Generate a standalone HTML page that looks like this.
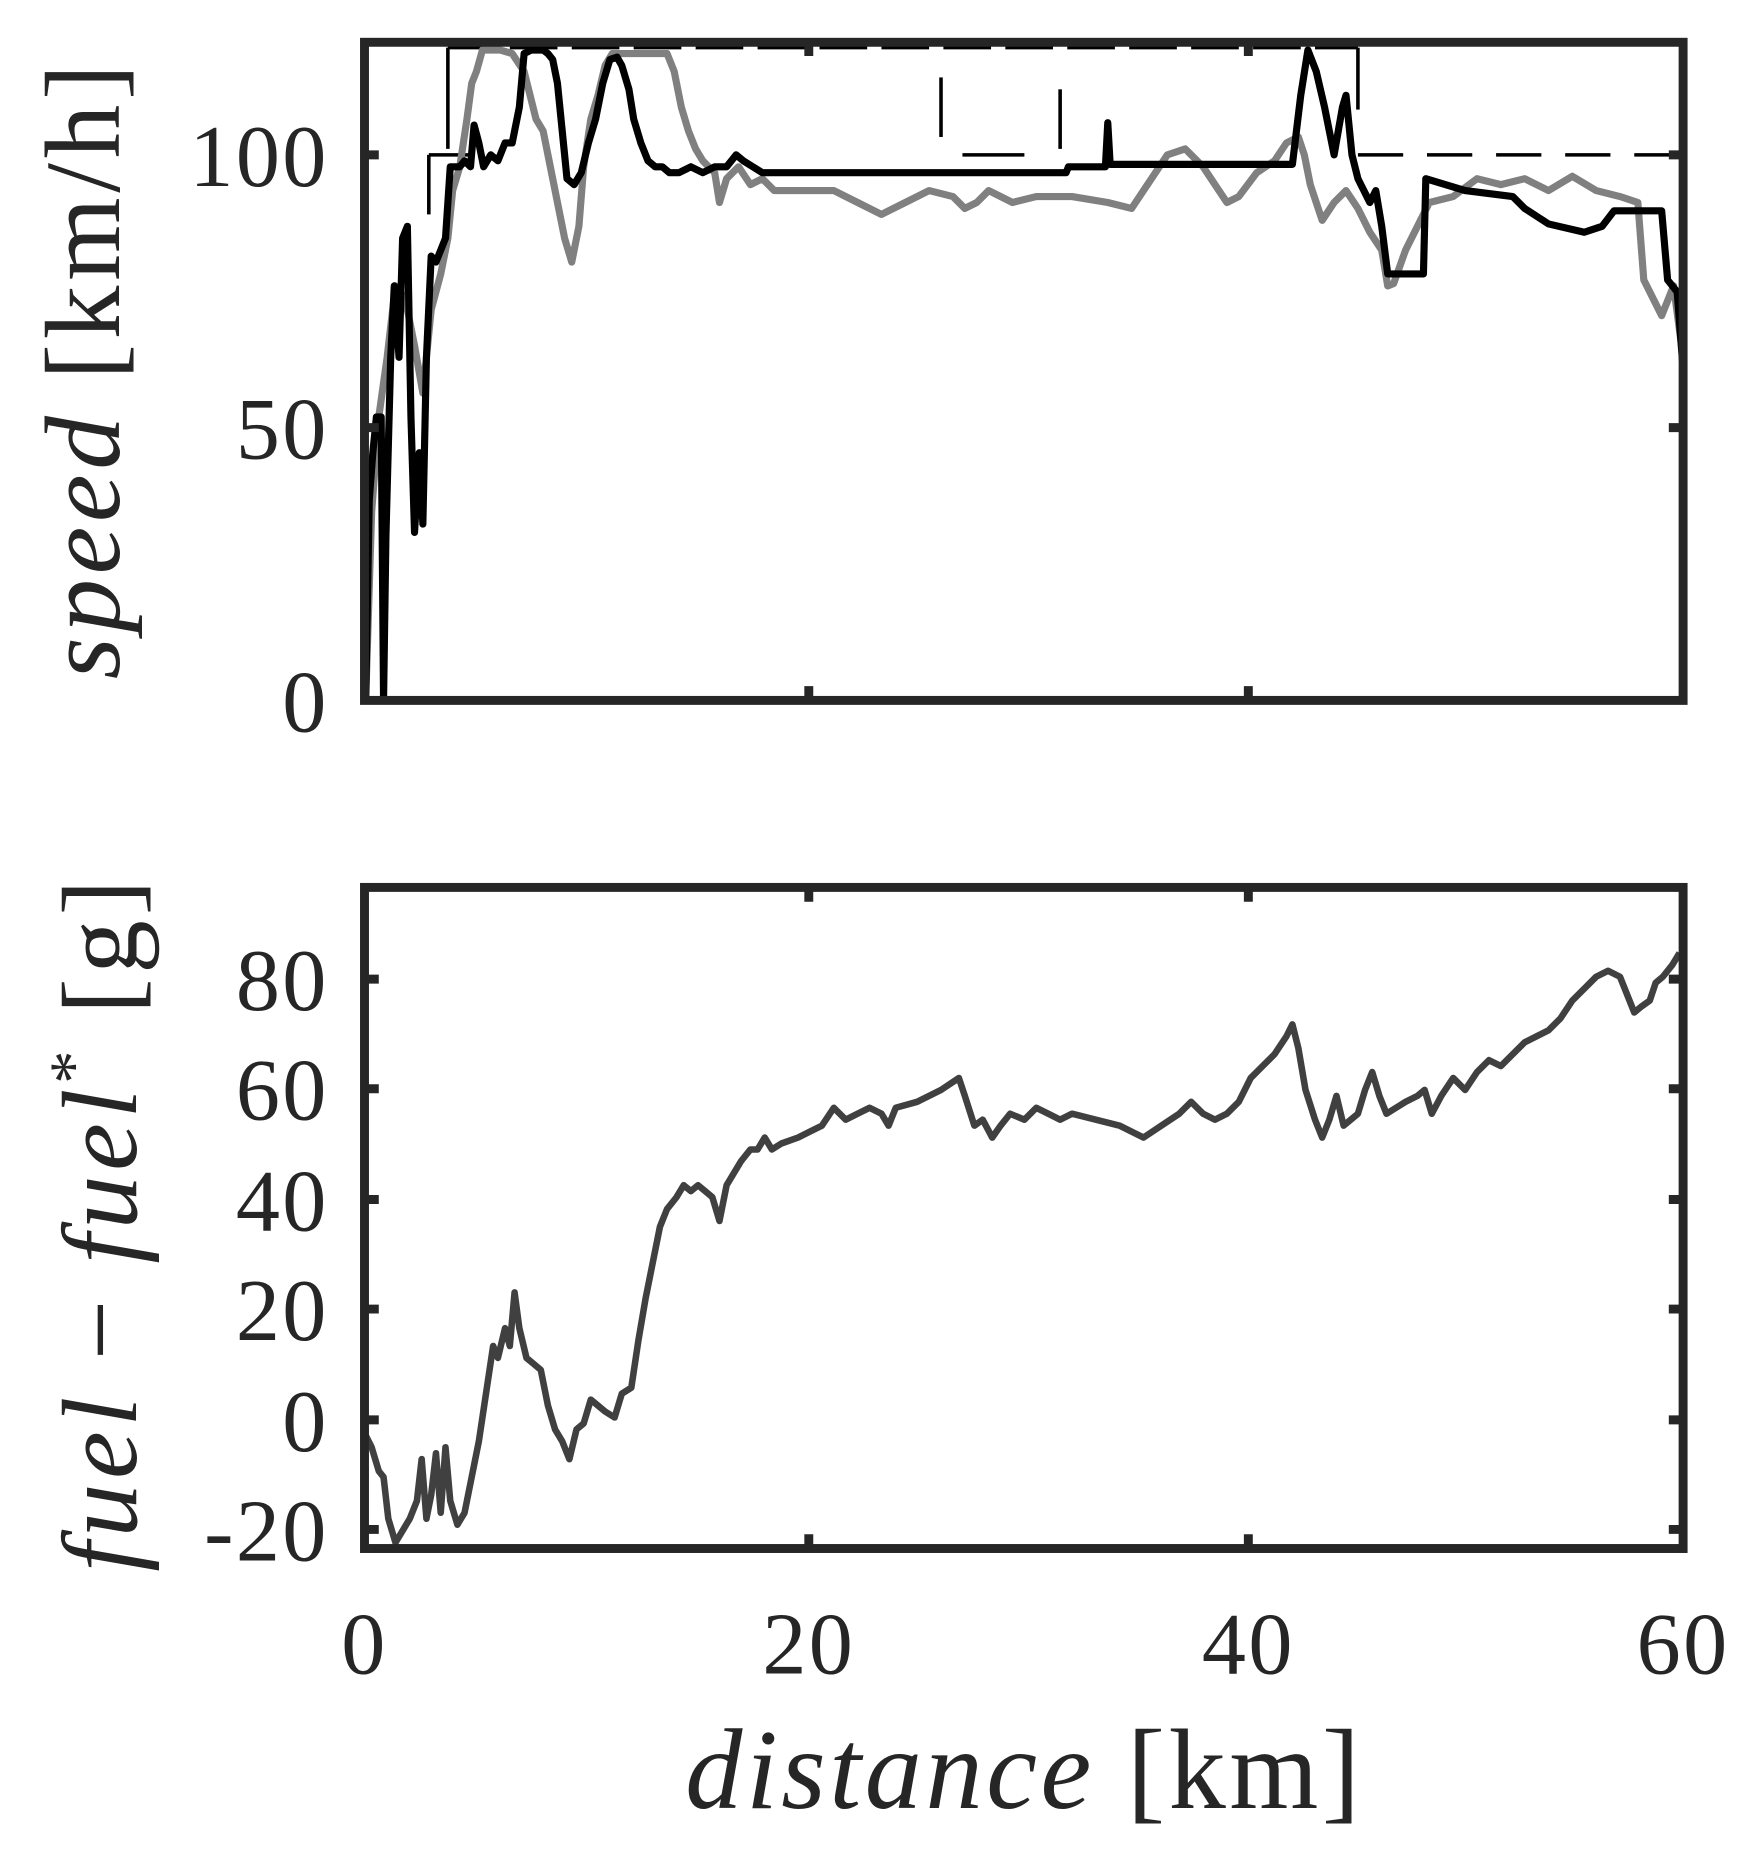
<!DOCTYPE html>
<html><head><meta charset="utf-8"><style>html,body{margin:0;padding:0;background:#fff}svg{display:block}</style></head>
<body>
<svg width="1751" height="1860" viewBox="0 0 1470 1561.5" preserveAspectRatio="none" xmlns="http://www.w3.org/2000/svg" font-family="'Liberation Serif', serif" fill="#262626">
<rect width="1470" height="1561.5" fill="#fff"/>
<g fill="none" stroke-linejoin="round">
<line x1="376" y1="40" x2="1140" y2="40" stroke="#000" stroke-width="3" stroke-dasharray="40,12"/>
<line x1="376" y1="40" x2="376" y2="125" stroke="#000" stroke-width="3"/>
<line x1="360" y1="130" x2="360" y2="180" stroke="#000" stroke-width="3"/>
<line x1="360" y1="130" x2="395" y2="130" stroke="#000" stroke-width="3"/>
<line x1="790" y1="65" x2="790" y2="115" stroke="#000" stroke-width="3"/>
<line x1="890" y1="75" x2="890" y2="125" stroke="#000" stroke-width="3"/>
<line x1="808" y1="130" x2="860" y2="130" stroke="#000" stroke-width="3"/>
<line x1="1140" y1="40" x2="1140" y2="92" stroke="#000" stroke-width="3"/>
<line x1="1140" y1="130" x2="1413" y2="130" stroke="#000" stroke-width="3" stroke-dasharray="38,20"/>
<polyline stroke="#808080" stroke-width="6" points="307,588 312,430 318,350 325,300 332,240 340,250 348,290 355,330 362,260 370,230 376,200 380,160 386,140 392,100 396,70 400,60 405,42 420,42 430,45 440,60 445,80 450,100 456,110 462,140 468,170 474,200 480,220 486,190 490,140 496,100 502,80 508,55 514,45 560,45 566,60 572,90 578,110 584,125 590,135 600,145 604,170 610,150 620,140 630,155 640,150 650,160 700,160 720,170 740,180 760,170 780,160 800,165 810,175 820,170 830,160 850,170 870,165 900,165 930,170 950,175 980,130 995,125 1010,140 1030,170 1040,165 1055,145 1070,135 1080,120 1090,115 1095,130 1100,155 1110,185 1120,170 1130,160 1140,175 1150,195 1160,210 1165,240 1170,238 1180,210 1200,170 1220,165 1240,150 1260,155 1280,150 1300,160 1320,148 1340,160 1360,165 1375,170 1380,235 1395,265 1405,240 1413,300"/>
<polyline stroke="#000" stroke-width="6" points="307,588 310,420 313,380 316,350 320,350 322,588 324,450 328,300 331,240 335,300 338,200 342,190 345,350 348,447 352,380 355,440 358,300 362,215 366,220 370,210 374,200 378,140 382,140 386,140 390,135 395,140 398,105 402,120 406,140 412,130 418,135 424,120 430,120 436,90 440,45 446,42 456,42 460,45 464,50 468,70 472,110 476,150 482,155 488,145 494,120 500,100 506,70 512,50 518,48 522,55 528,75 532,100 538,120 544,135 550,140 556,140 562,145 570,145 580,140 590,145 600,140 610,140 618,130 624,135 632,140 640,145 650,145 895,145 897,140 928,140 930,103 932,138 1085,138 1092,80 1098,42 1105,60 1112,90 1120,130 1127,90 1130,80 1135,130 1140,150 1150,170 1155,160 1160,190 1165,230 1195,230 1197,150 1230,160 1270,165 1275,170 1280,175 1300,188 1330,195 1345,190 1355,177 1395,177 1400,235 1408,245 1413,310"/>
<polyline stroke="#404040" stroke-width="5.5" points="307,1205 312,1215 318,1235 322,1240 326,1275 332,1295 338,1285 344,1275 350,1260 354,1225 358,1275 362,1255 366,1220 370,1270 374,1215 378,1260 384,1280 390,1270 396,1240 402,1210 408,1170 414,1130 418,1140 424,1115 428,1130 432,1085 436,1115 442,1140 448,1145 454,1150 460,1180 466,1200 472,1210 478,1225 484,1200 490,1195 496,1175 502,1180 508,1185 516,1190 522,1170 530,1165 536,1125 542,1090 548,1060 554,1030 560,1015 568,1005 574,995 580,1000 586,995 592,1000 598,1005 604,1025 610,995 616,985 622,975 630,965 636,965 642,955 648,965 656,960 670,955 680,950 690,945 700,930 710,940 720,935 730,930 740,935 746,945 752,930 770,925 790,915 805,905 810,920 818,945 825,940 833,955 840,945 848,935 860,940 870,930 880,935 890,940 900,935 920,940 940,945 960,955 975,945 990,935 1000,925 1010,935 1020,940 1030,935 1040,925 1050,905 1060,895 1070,885 1080,870 1085,860 1090,880 1096,915 1104,940 1110,955 1116,940 1122,920 1128,945 1134,940 1140,935 1146,915 1152,900 1158,920 1164,935 1172,930 1180,925 1190,920 1196,915 1202,935 1210,920 1220,905 1230,915 1240,900 1250,890 1260,895 1270,885 1280,875 1290,870 1300,865 1310,855 1320,840 1330,830 1340,820 1350,815 1360,820 1366,835 1372,850 1378,845 1385,840 1390,825 1396,820 1404,810 1410,800"/>
</g>
<g fill="none" stroke="#262626" stroke-width="7.5">
<rect x="306" y="35.5" width="1107" height="552.5"/>
<rect x="306" y="745" width="1107" height="555"/>
</g>
<g stroke="#262626" stroke-width="7.5">
<path d="M306,359h12M306,130h12M1413,359h-12M1413,130h-12M679,588v-12M1048,588v-12M679,35v12M1048,35v12"/>
<path d="M306,1284h12M306,1192h12M306,1099h12M306,1007h12M306,914h12M306,822h12M1413,1284h-12M1413,1192h-12M1413,1099h-12M1413,1007h-12M1413,914h-12M1413,822h-12M679,1300v-12M1048,1300v-12M679,745v12M1048,745v12"/>
</g>
<g font-size="74" text-anchor="end" letter-spacing="2">
<text x="276" y="614">0</text><text x="276" y="385">50</text><text x="276" y="156">100</text>
<text x="276" y="1310">-20</text><text x="276" y="1218">0</text><text x="276" y="1125">20</text><text x="276" y="1033">40</text><text x="276" y="940">60</text><text x="276" y="848">80</text>
</g>
<g font-size="74" text-anchor="middle" letter-spacing="2">
<text x="306" y="1405">0</text><text x="679" y="1405">20</text><text x="1048" y="1405">40</text><text x="1413" y="1405">60</text>
</g>
<text x="860" y="1518" font-size="96" text-anchor="middle" letter-spacing="3"><tspan font-style="italic">distance</tspan> [km]</text>
<text transform="translate(100,310) rotate(-90)" font-size="90" text-anchor="middle" letter-spacing="4"><tspan font-style="italic">speed</tspan> [km/h]</text>
<text transform="translate(114,1027) rotate(-90)" font-size="90" text-anchor="middle" letter-spacing="4"><tspan font-style="italic">fuel</tspan> − <tspan font-style="italic">fuel</tspan><tspan font-size="56" dy="-34">*</tspan><tspan dy="34"> [g]</tspan></text>
</svg>
</body></html>
